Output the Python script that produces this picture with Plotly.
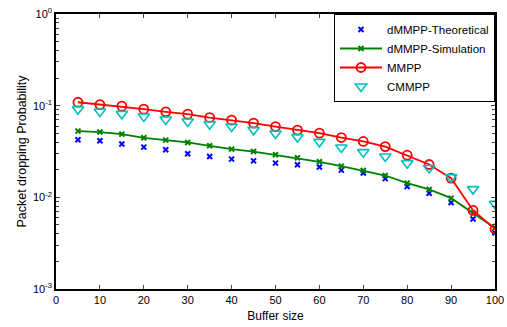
import plotly.graph_objects as go

buffer = [5, 10, 15, 20, 25, 30, 35, 40, 45, 50, 55, 60, 65, 70, 75, 80, 85, 90, 95, 100]
dmmpp_theo = [0.0424, 0.0414, 0.0381, 0.0353, 0.0330, 0.0299, 0.0279, 0.0261, 0.0250, 0.0236,
              0.0227, 0.0214, 0.0198, 0.0184, 0.0160, 0.0131, 0.0111, 0.0088, 0.0058, 0.0041]
dmmpp_sim = [0.0528, 0.0515, 0.0489, 0.0446, 0.0421, 0.0397, 0.0365, 0.0336, 0.0316, 0.0291,
             0.0270, 0.0244, 0.0219, 0.0196, 0.0173, 0.0143, 0.0122, 0.0098, 0.00675, 0.00463]
mmpp = [0.109, 0.1028, 0.0988, 0.0916, 0.0856, 0.0808, 0.0742, 0.0695, 0.0645, 0.0592,
        0.0541, 0.0501, 0.0449, 0.0407, 0.0358, 0.0288, 0.0228, 0.0162, 0.0072, 0.00452]
cmmpp = [0.0916, 0.0863, 0.0814, 0.0761, 0.0706, 0.0671, 0.0629, 0.0592, 0.0545, 0.0497,
         0.0454, 0.0403, 0.0350, 0.0311, 0.0279, 0.0236, 0.0209, 0.0166, 0.0123, 0.0085]

x_ticks = [0, 10, 20, 30, 40, 50, 60, 70, 80, 90, 100]
y_decades = [-3, -2, -1, 0]

fig = go.Figure()
fig.add_trace(go.Scatter(x=buffer, y=dmmpp_theo, mode="markers", name="dMMPP-Theoretical",
                         marker=dict(symbol="x-thin", size=5, color="#0000ff",
                                     line=dict(width=2, color="#0000ff"))))
fig.add_trace(go.Scatter(x=buffer, y=dmmpp_sim, mode="lines+markers", name="dMMPP-Simulation",
                         line=dict(color="#008000", width=1.8),
                         marker=dict(symbol="x-thin", size=5, color="#008000",
                                     line=dict(width=2, color="#008000"))))
fig.add_trace(go.Scatter(x=buffer, y=mmpp, mode="lines+markers", name="MMPP",
                         line=dict(color="#ff0000", width=1.8),
                         marker=dict(symbol="circle-open", size=9, color="#ff0000",
                                     line=dict(width=1.8, color="#ff0000"))))
fig.add_trace(go.Scatter(x=buffer, y=cmmpp, mode="markers", name="CMMPP",
                         marker=dict(symbol="triangle-down-open", size=10, color="#00bfbf",
                                     line=dict(width=1.6, color="#00bfbf"))))

major_vals = [10 ** d for d in y_decades]
major_text = ["10<sup>%d</sup>" % d for d in y_decades]
minor_vals = [m * 10 ** d for d in y_decades[:-1] for m in range(2, 10)]

fig.update_layout(
    width=507, height=327,
    margin=dict(l=56, r=12, t=14, b=38),
    paper_bgcolor="white", plot_bgcolor="white",
    font=dict(family="Liberation Sans, Arial, sans-serif", size=11, color="black"),
    showlegend=True,
    legend=dict(x=1, y=1, xanchor="right", yanchor="top", bgcolor="white",
                bordercolor="black", borderwidth=1, font=dict(size=11.5),
                tracegroupgap=0, itemwidth=42),
    xaxis=dict(range=[0, 100], tickvals=x_ticks, ticks="inside", ticklen=4,
               showline=True, linecolor="black", linewidth=1.5, mirror="ticks",
               showgrid=False, zeroline=False, automargin=False,
               tickfont=dict(size=11),
               title=dict(text="Buffer size", font=dict(size=12), standoff=7)),
    yaxis=dict(type="log", range=[-3, 0], tickvals=major_vals, ticktext=major_text,
               ticks="inside", ticklen=4, showline=True, linecolor="black", linewidth=1.5,
               mirror="ticks", showgrid=False, zeroline=False, automargin=False,
               tickfont=dict(size=11),
               minor=dict(tickvals=minor_vals, ticks="inside", ticklen=3, showgrid=False),
               title=dict(text="Packet dropping Probability", font=dict(size=12.5), standoff=4)),
)

fig.write_html("out.html", config={"displayModeBar": False},
               post_script="document.body.style.margin='0';")
